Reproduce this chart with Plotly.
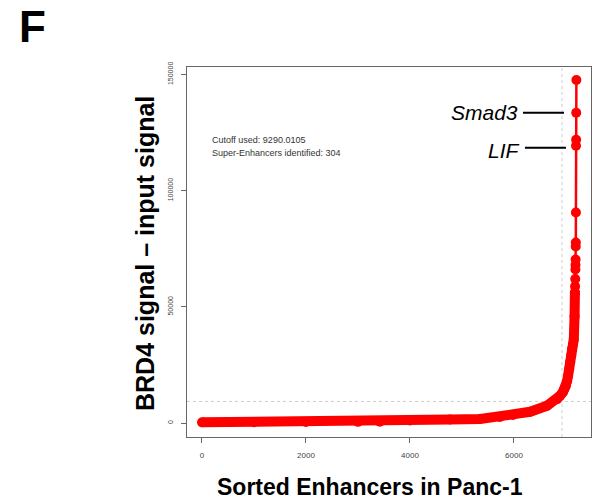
import plotly.graph_objects as go

# ---- data ----
bulk_rank = [1, 1000, 2000, 3000, 3420, 4000, 4770, 5350, 5730, 5980, 6310, 6635,
             6830, 6880, 6940, 6970, 7000, 7020, 7040, 7060, 7080, 7100, 7115, 7135,
             7150, 7165, 7172]
bulk_signal = [300, 350, 430, 520, 560, 1070, 1500, 1720, 2575, 3430, 4850, 7425,
               10300, 11600, 13300, 14600, 16000, 18000, 20300, 23200, 26200, 29200,
               31800, 33900, 36000, 46000, 56200]
top_rank = [7172, 7175, 7178, 7181, 7183, 7185, 7187, 7189, 7191, 7193, 7195, 7197, 7200]
top_signal = [56200, 58800, 62000, 66100, 68000, 70400, 76000, 77700, 90600,
              119300, 121900, 133500, 147600]
cutoff = 9290.0105
cutoff_rank = 6923
n_super = 304
x_ticks = [0, 2000, 4000, 6000]
y_ticks = [0, 50000, 100000, 150000]
genes = ["Smad3", "LIF"]
gene_signal = [133500, 118500]

RED = "#FF0000"
FONT = "Liberation Sans, Arial"
fig = go.Figure()
fig.add_trace(go.Scatter(x=bulk_rank, y=bulk_signal, mode="lines+markers",
                         line=dict(color=RED, width=10), marker=dict(color=RED, size=10),
                         hoverinfo="skip", showlegend=False))
fig.add_trace(go.Scatter(x=top_rank, y=top_signal, mode="lines+markers",
                         line=dict(color=RED, width=2.5), marker=dict(color=RED, size=10),
                         hoverinfo="skip", showlegend=False))

# cutoff dashed lines
fig.add_shape(type="line", xref="paper", yref="y", x0=0, x1=1, y0=cutoff, y1=cutoff,
              line=dict(color="#cccccc", width=1, dash="dot"), layer="below")
fig.add_shape(type="line", xref="x", yref="paper", x0=cutoff_rank, x1=cutoff_rank, y0=0, y1=1,
              line=dict(color="#cccccc", width=1, dash="dot"), layer="below")

# gene labels
for g, v, x0, x1 in zip(genes, gene_signal, [6173, 6211], [6962, 7000]):
    fig.add_shape(type="line", xref="x", yref="y", x0=x0, x1=x1, y0=v, y1=v,
                  line=dict(color="black", width=2))
    fig.add_annotation(x=x0 - 60, y=v, xref="x", yref="y", text=f"<i>{g}</i>", showarrow=False,
                       xanchor="right", yanchor="middle",
                       font=dict(family=FONT, size=21, color="black"),
                       yshift=-3 if g == "LIF" else 0)

W, L, T = 404, 187, 67
H = 370
def px(x):
    return (x - L) / W
def py(y):
    return (T + H - y) / H

fig.add_annotation(x=px(210), y=py(140), xref="paper", yref="paper",
                   text=f"Cutoff used: {cutoff}", showarrow=False, xanchor="left",
                   yanchor="middle", font=dict(family=FONT, size=9, color="#333"))
fig.add_annotation(x=px(210), y=py(153), xref="paper", yref="paper",
                   text=f"Super-Enhancers identified: {n_super}", showarrow=False, xanchor="left",
                   yanchor="middle", font=dict(family=FONT, size=9, color="#333"))

fig.add_annotation(x=px(145), y=py(254), xref="paper", yref="paper",
                   text="<b>BRD4 signal – input signal</b>", showarrow=False, textangle=-90,
                   xanchor="center", yanchor="middle",
                   font=dict(family=FONT, size=25, color="black"))
fig.add_annotation(x=px(370), y=py(487), xref="paper", yref="paper",
                   text="<b>Sorted Enhancers in Panc-1</b>", showarrow=False,
                   xanchor="center", yanchor="middle",
                   font=dict(family=FONT, size=23, color="black"))
fig.add_annotation(x=px(32), y=py(0), xref="paper", yref="paper",
                   text="<b>F</b>", showarrow=False, xanchor="center", yanchor="top",
                   font=dict(family=FONT, size=44, color="black"))

axis_common = dict(showgrid=False, zeroline=False, showline=True, mirror=True,
                   linecolor="#666", linewidth=1, ticks="outside", ticklen=5,
                   tickcolor="#666", tickwidth=1)
fig.update_xaxes(range=[-288, 7481], tickvals=x_ticks, ticktext=[str(v) for v in x_ticks],
                 ticklabelstandoff=5, tickfont=dict(family=FONT, size=8, color="#444"),
                 **axis_common)
fig.update_yaxes(range=[-6000, 153200], tickvals=y_ticks, ticktext=[str(v) for v in y_ticks],
                 tickangle=-90, ticklabelstandoff=5, tickfont=dict(family=FONT, size=7, color="#444"),
                 **axis_common)

fig.update_layout(width=603, height=504, margin=dict(l=L, r=603 - L - W, t=T, b=504 - T - H),
                  plot_bgcolor="white", paper_bgcolor="white")
fig.write_html("out.html")
